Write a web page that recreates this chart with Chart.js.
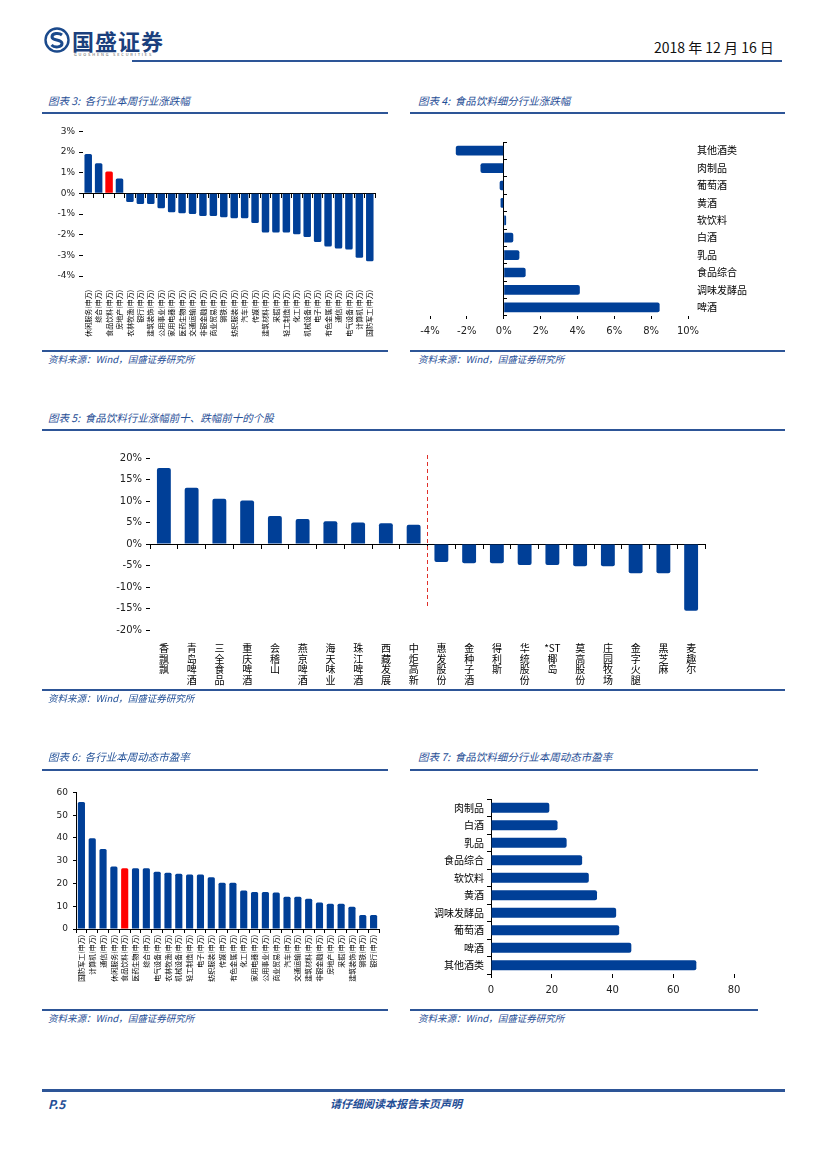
<!DOCTYPE html>
<html>
<head>
<meta charset="utf-8">
<script src="https://cdn.jsdelivr.net/npm/chart.js@4.4.0/dist/chart.umd.min.js"></script>
<style>
body{margin:0;background:#fff;}
#page{position:relative;width:827px;height:1169px;overflow:hidden;font-family:"Noto Sans CJK SC",sans-serif;}
.ttl{position:absolute;font-size:10.5px;font-style:italic;color:#1f4e96;white-space:nowrap;}
.src{position:absolute;font-size:9.5px;font-style:italic;color:#1f4e96;white-space:nowrap;}
.hl{position:absolute;height:2px;background:#2d5597;}
.sl{position:absolute;height:1.5px;background:#2d5597;}
.box{position:absolute;}
</style>
</head>
<body>
<div id="page">
  <!-- header -->
  <svg class="box" style="left:44px;top:27px" width="26" height="26" viewBox="0 0 26 26">
    <circle cx="13" cy="13" r="11.5" fill="none" stroke="#1b4a8c" stroke-width="2.4"/>
    <path d="M18 8 C15 5.5 8 6 8 10 C8 14 18 12 18 16.5 C18 20.5 10.5 21 7.5 18" fill="none" stroke="#1b4a8c" stroke-width="3"/>
  </svg>
  <div class="box" style="left:72px;top:24px;font-size:22px;font-weight:bold;color:#1b3f7d;letter-spacing:1px">国盛证券</div>
  <div class="box" style="left:74px;top:51px;font-size:4px;color:#555;letter-spacing:1.8px">GUOSHENG SECURITIES</div>
  <div class="box" style="left:654px;top:37px;font-size:14px;color:#111">2018 年 12 月 16 日</div>
  <div class="hl" style="left:132px;top:60px;width:650px"></div>

  <!-- chart 3 / 4 -->
  <div class="ttl" style="left:48px;top:93px">图表 3:&nbsp; 各行业本周行业涨跌幅</div>
  <div class="hl" style="left:42px;top:112px;width:346px"></div>
  <div class="ttl" style="left:418px;top:93px">图表 4:&nbsp; 食品饮料细分行业涨跌幅</div>
  <div class="hl" style="left:410px;top:112px;width:375px"></div>
  <div class="box" style="left:40px;top:122px;width:345px;height:228px"><canvas id="c3"></canvas></div>
  <div class="box" style="left:410px;top:135px;width:375px;height:210px"><canvas id="c4"></canvas></div>
  <div class="sl" style="left:42px;top:350px;width:346px"></div>
  <div class="src" style="left:48px;top:352px">资料来源：Wind，国盛证券研究所</div>
  <div class="sl" style="left:410px;top:350px;width:375px"></div>
  <div class="src" style="left:418px;top:352px">资料来源：Wind，国盛证券研究所</div>

  <!-- chart 5 -->
  <div class="ttl" style="left:48px;top:410px">图表 5:&nbsp; 食品饮料行业涨幅前十、跌幅前十的个股</div>
  <div class="hl" style="left:42px;top:429px;width:743px"></div>
  <div class="box" style="left:90px;top:448px;width:625px;height:246px"><canvas id="c5"></canvas></div>
  <div class="sl" style="left:42px;top:689px;width:743px"></div>
  <div class="src" style="left:48px;top:691px">资料来源：Wind，国盛证券研究所</div>

  <!-- chart 6 / 7 -->
  <div class="ttl" style="left:48px;top:749px">图表 6:&nbsp; 各行业本周动态市盈率</div>
  <div class="hl" style="left:42px;top:769px;width:346px"></div>
  <div class="ttl" style="left:418px;top:749px">图表 7:&nbsp; 食品饮料细分行业本周动态市盈率</div>
  <div class="hl" style="left:410px;top:769px;width:348px"></div>
  <div class="box" style="left:40px;top:782px;width:345px;height:226px"><canvas id="c6"></canvas></div>
  <div class="box" style="left:410px;top:790px;width:350px;height:212px"><canvas id="c7"></canvas></div>
  <div class="sl" style="left:42px;top:1009px;width:346px"></div>
  <div class="src" style="left:48px;top:1011px">资料来源：Wind，国盛证券研究所</div>
  <div class="sl" style="left:410px;top:1009px;width:348px"></div>
  <div class="src" style="left:418px;top:1011px">资料来源：Wind，国盛证券研究所</div>

  <!-- footer -->
  <div class="hl" style="left:42px;top:1089px;width:743px;height:2.5px"></div>
  <div class="box" style="left:48px;top:1095px;font-size:12px;font-weight:bold;font-style:italic;color:#1f4e96">P.5</div>
  <div class="box" style="left:330px;top:1095px;font-size:11px;font-weight:bold;font-style:italic;color:#1f4e96">请仔细阅读本报告末页声明</div>
</div>

<script>
// 图表3 各行业本周涨跌幅 (%)
var indNames = ['休闲服务','综合','食品饮料','房地产','农林牧渔','银行','建筑装饰','公用事业','家用电器','医药生物',
                '交通运输','非银金融','商业贸易','钢铁','纺织服装','汽车','传媒','建筑材料','采掘','轻工制造',
                '化工','机械设备','电子','有色金属','通信','电气设备','计算机','国防军工'];
var indChg = [1.90,1.46,1.06,0.72,-0.42,-0.52,-0.52,-0.72,-0.91,-0.96,
              -1.00,-1.10,-1.10,-1.15,-1.20,-1.20,-1.43,-1.89,-1.89,-1.89,
              -1.98,-2.11,-2.36,-2.57,-2.67,-2.72,-3.12,-3.28];

// 图表4 细分行业涨跌幅 (%)
var subNames = ['其他酒类','肉制品','葡萄酒','黄酒','软饮料','白酒','乳品','食品综合','调味发酵品','啤酒'];
var subChg = [-2.60,-1.26,-0.22,-0.17,0.13,0.52,0.85,1.19,4.13,8.46];

// 图表5 涨幅前十、跌幅前十 (%)
var stockNames = ['香飘飘','青岛啤酒','三全食品','重庆啤酒','会稽山','燕京啤酒','海天味业','珠江啤酒','西藏发展','中炬高新',
                  '惠发股份','金种子酒','得利斯','华统股份','*ST椰岛','莫高股份','庄园牧场','金字火腿','黑芝麻','麦趣尔'];
var stockChg = [17.7,13.1,10.5,10.1,6.5,5.8,5.3,5.0,4.85,4.5,
                -4.2,-4.5,-4.5,-4.9,-4.9,-5.2,-5.2,-6.8,-6.8,-15.5];

// 图表6 各行业动态市盈率
var peNames = ['国防军工','计算机','通信','休闲服务','食品饮料','医药生物','综合','电气设备','农林牧渔','机械设备',
               '轻工制造','电子','纺织服装','传媒','有色金属','化工','家用电器','公用事业','商业贸易','汽车',
               '交通运输','建筑材料','非银金融','房地产','采掘','建筑装饰','钢铁','银行'];
var peVals = [55.8,39.9,35.1,27.4,26.7,26.7,26.7,25.2,24.7,24.3,
              23.9,23.9,22.7,20.3,20.3,16.9,16.3,16.3,16.0,14.2,
              14.2,13.3,11.6,11.1,11.1,9.8,6.2,6.2];

// 图表7 细分行业动态市盈率
var subPeNames = ['肉制品','白酒','乳品','食品综合','软饮料','黄酒','调味发酵品','葡萄酒','啤酒','其他酒类'];
var subPeVals = [19.2,21.9,24.9,30.0,32.2,34.9,41.2,42.2,46.2,67.6];

var BLUE = '#003f97', RED = '#ff0000';
var numFont = {family: 'DejaVu Sans', size: 9};
var cjkFont = {family: 'Noto Sans CJK SC', size: 10};
var tinyCjk = {family: 'Noto Sans CJK SC', size: 7};

Chart.defaults.animation = false;
Chart.defaults.color = '#222';
Chart.defaults.plugins.legend.display = false;
Chart.defaults.plugins.tooltip.enabled = false;
Chart.defaults.maintainAspectRatio = false;

function tickMarks(len){
    return {display: true, drawOnChartArea: false, drawTicks: true, tickLength: len, color: '#000'};
}
function pct(v){ return v + '%'; }
function colorsFor(names){
    return names.map(function(n){ return n == '食品饮料' ? RED : BLUE; });
}

// ---- 图表3
new Chart(document.getElementById('c3'), {
    type: 'bar',
    data: {
        labels: indNames.map(function(n){ return n + '(申万)'; }),
        datasets: [{data: indChg, backgroundColor: colorsFor(indNames), barPercentage: 0.72, categoryPercentage: 1, borderRadius: 1.5}]
    },
    options: {
        layout: {padding: {top: 5, right: 10}},
        scales: {
            x: {
                border: {display: false}, grid: {display: false},
                ticks: {font: tinyCjk, color: '#000', minRotation: 90, maxRotation: 90, autoSkip: false, padding: 6},
                afterFit: function(s){ s.height = 74; }
            },
            x0: {
                type: 'category', position: {y: 0}, offset: true,
                grid: {display: true, drawOnChartArea: false, offset: true, tickLength: 4, color: '#000'},
                border: {display: true, color: '#000'},
                ticks: {display: false}
            },
            y: {
                min: -4, max: 3,
                border: {display: false}, grid: tickMarks(4),
                ticks: {stepSize: 1, font: numFont, callback: pct, padding: 4},
                afterFit: function(s){ s.width = 43; }
            }
        }
    }
});

// ---- 图表4
new Chart(document.getElementById('c4'), {
    type: 'bar',
    data: {
        labels: subNames,
        datasets: [{data: subChg, backgroundColor: BLUE, barPercentage: 0.56, categoryPercentage: 1, borderRadius: 2}]
    },
    options: {
        indexAxis: 'y',
        layout: {padding: {top: 3, left: 20}},
        scales: {
            x: {
                min: -4, max: 10,
                border: {display: false}, grid: tickMarks(3),
                ticks: {stepSize: 2, font: {family: 'DejaVu Sans', size: 10}, callback: pct, padding: 6},
                afterFit: function(s){ s.height = 29; }
            },
            y: {
                position: 'right',
                border: {display: false}, grid: {display: false},
                ticks: {font: cjkFont, color: '#000', padding: 1},
                afterFit: function(s){ s.width = 97; }
            },
            y0: {
                type: 'category', position: {x: 0}, offset: true,
                grid: {display: true, drawOnChartArea: false, offset: true, tickLength: -4, color: '#000'},
                border: {display: true, color: '#000'},
                ticks: {display: false}
            }
        }
    }
});

// ---- 图表5
var splitLine = {
    id: 'splitLine',
    afterDatasetsDraw: function(chart){
        var x = chart.scales.x, y = chart.scales.y, ctx = chart.ctx;
        var px = (x.getPixelForValue(9) + x.getPixelForValue(10)) / 2;
        ctx.save();
        ctx.strokeStyle = '#e0302a';
        ctx.lineWidth = 1;
        ctx.setLineDash([4, 3]);
        ctx.beginPath();
        ctx.moveTo(px, y.getPixelForValue(20) - 3);
        ctx.lineTo(px, y.getPixelForValue(-15));
        ctx.stroke();
        ctx.restore();
    }
};
new Chart(document.getElementById('c5'), {
    type: 'bar',
    data: {
        labels: stockNames.map(function(s){
            return s.indexOf('*ST') == 0 ? ['*ST'].concat(s.slice(3).split('')) : s.split('');
        }),
        datasets: [{data: stockChg, backgroundColor: BLUE, barPercentage: 0.5, categoryPercentage: 1, borderRadius: 2}]
    },
    options: {
        layout: {padding: {top: 5, right: 10}},
        scales: {
            x: {
                border: {display: false}, grid: {display: false},
                ticks: {font: {family: 'Noto Sans CJK SC', size: 10, lineHeight: 1.05}, color: '#000', minRotation: 0, maxRotation: 0, autoSkip: false, padding: 5},
                afterFit: function(s){ s.height = 64; }
            },
            x0: {
                type: 'category', position: {y: 0}, offset: true,
                grid: {display: true, drawOnChartArea: false, offset: true, tickLength: 4, color: '#000'},
                border: {display: true, color: '#000'},
                ticks: {display: false}
            },
            y: {
                min: -20, max: 20,
                border: {display: false}, grid: tickMarks(4),
                ticks: {stepSize: 5, font: {family: 'DejaVu Sans', size: 10}, callback: pct, padding: 4},
                afterFit: function(s){ s.width = 60; }
            }
        }
    },
    plugins: [splitLine]
});

// ---- 图表6
new Chart(document.getElementById('c6'), {
    type: 'bar',
    data: {
        labels: peNames.map(function(n){ return n + '(申万)'; }),
        datasets: [{data: peVals, backgroundColor: colorsFor(peNames), barPercentage: 0.66, categoryPercentage: 1, borderRadius: 1.5}]
    },
    options: {
        layout: {padding: {top: 6, right: 6}},
        scales: {
            x: {
                border: {display: true, color: '#000'},
                grid: {display: true, drawOnChartArea: false, offset: true, tickLength: 4, color: '#000'},
                ticks: {font: tinyCjk, color: '#000', minRotation: 90, maxRotation: 90, autoSkip: false, padding: 2},
                afterFit: function(s){ s.height = 79; }
            },
            y: {
                min: 0, max: 60,
                border: {display: true, color: '#000'}, grid: tickMarks(3),
                ticks: {stepSize: 10, font: numFont, padding: 5},
                afterFit: function(s){ s.width = 36; }
            }
        }
    }
});

// ---- 图表7
new Chart(document.getElementById('c7'), {
    type: 'bar',
    data: {
        labels: subPeNames,
        datasets: [{data: subPeVals, backgroundColor: BLUE, barPercentage: 0.58, categoryPercentage: 1, borderRadius: 2}]
    },
    options: {
        indexAxis: 'y',
        layout: {padding: {top: 8, right: 26}},
        scales: {
            x: {
                min: 0, max: 80,
                border: {display: false}, grid: tickMarks(4),
                ticks: {stepSize: 20, font: {family: 'DejaVu Sans', size: 10}, padding: 6},
                afterFit: function(s){ s.height = 28; }
            },
            y: {
                border: {display: true, color: '#000'},
                grid: {display: true, drawOnChartArea: false, offset: true, tickLength: 4, color: '#000'},
                ticks: {font: cjkFont, color: '#000', padding: 3},
                afterFit: function(s){ s.width = 81; }
            }
        }
    }
});
</script>
</body>
</html>
